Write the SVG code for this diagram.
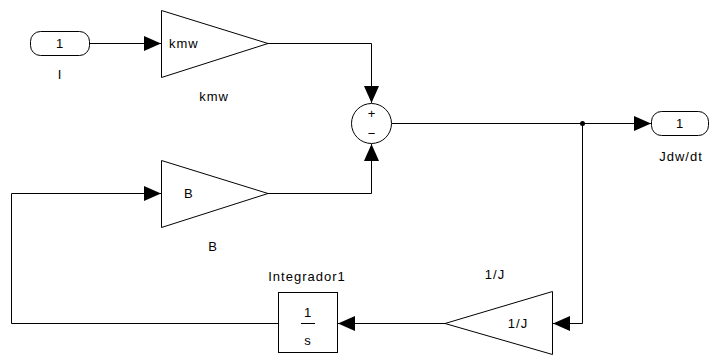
<svg xmlns="http://www.w3.org/2000/svg" width="713" height="358" viewBox="0 0 713 358">
<style>
.blk{fill:#fff;stroke:#000;stroke-width:1}
.ln{fill:none;stroke:#000;stroke-width:1}
.t{font-family:"Liberation Sans",Arial,sans-serif;font-size:13px;fill:#000;letter-spacing:1px}
.c{text-anchor:middle}
</style>
<defs>
<marker id="ah" markerUnits="userSpaceOnUse" markerWidth="17" markerHeight="15" refX="17" refY="7.5" orient="auto">
<path d="M0,0 L17,7.5 L0,15 z" fill="#000"/>
</marker>
</defs>
<rect width="713" height="358" fill="#fff"/>
<g id="connectors">
<path class="ln" d="M90,43.5 H161" marker-end="url(#ah)"/>
<path class="ln" d="M268,43.5 H371.5 V103" marker-end="url(#ah)"/>
<path class="ln" d="M268,193.5 H371.5 V144" marker-end="url(#ah)"/>
<path class="ln" d="M392,123.5 H651" marker-end="url(#ah)"/>
<path class="ln" d="M582.5,123.5 V323.5 H553" marker-end="url(#ah)"/>
<path class="ln" d="M445,323.5 H338" marker-end="url(#ah)"/>
<path class="ln" d="M278,323.5 H11.5 V193.5 H161" marker-end="url(#ah)"/>
<circle cx="582.5" cy="123.5" r="2.5" fill="#000"/>
</g>
<g id="in1">
<rect class="blk" x="30.5" y="31.5" width="59" height="24" rx="10"/>
<text class="t c" x="60" y="48">1</text>
<text class="t c" x="60" y="79">I</text>
</g>
<g id="kmw">
<polygon class="blk" points="161.5,10.5 161.5,77.5 268,43.5"/>
<text class="t" x="169" y="48">kmw</text>
<text class="t c" x="214" y="101">kmw</text>
</g>
<g id="sum">
<circle class="blk" cx="371.5" cy="123.5" r="20"/>
<text class="t c" x="371.5" y="118" style="letter-spacing:0">+</text>
<text class="t c" x="371.5" y="138" style="letter-spacing:0">−</text>
</g>
<g id="B">
<polygon class="blk" points="161.5,160.5 161.5,227.5 268,193.5"/>
<text class="t" x="184" y="198">B</text>
<text class="t c" x="213" y="251">B</text>
</g>
<g id="out1">
<rect class="blk" x="651.5" y="111.5" width="57" height="24" rx="10"/>
<text class="t c" x="680" y="128">1</text>
<text class="t c" x="681" y="161">Jdw/dt</text>
</g>
<g id="gainJ">
<polygon class="blk" points="552.5,291.5 552.5,354.5 445,323.5"/>
<text class="t c" x="518" y="328">1/J</text>
<text class="t c" x="495" y="279">1/J</text>
</g>
<g id="Integrador1">
<rect class="blk" x="278.5" y="292.5" width="59" height="60"/>
<text class="t c" x="308" y="317">1</text>
<line class="ln" x1="301" y1="323.5" x2="315" y2="323.5"/>
<text class="t c" x="308" y="345">s</text>
<text class="t c" x="307" y="281">Integrador1</text>
</g>
</svg>
